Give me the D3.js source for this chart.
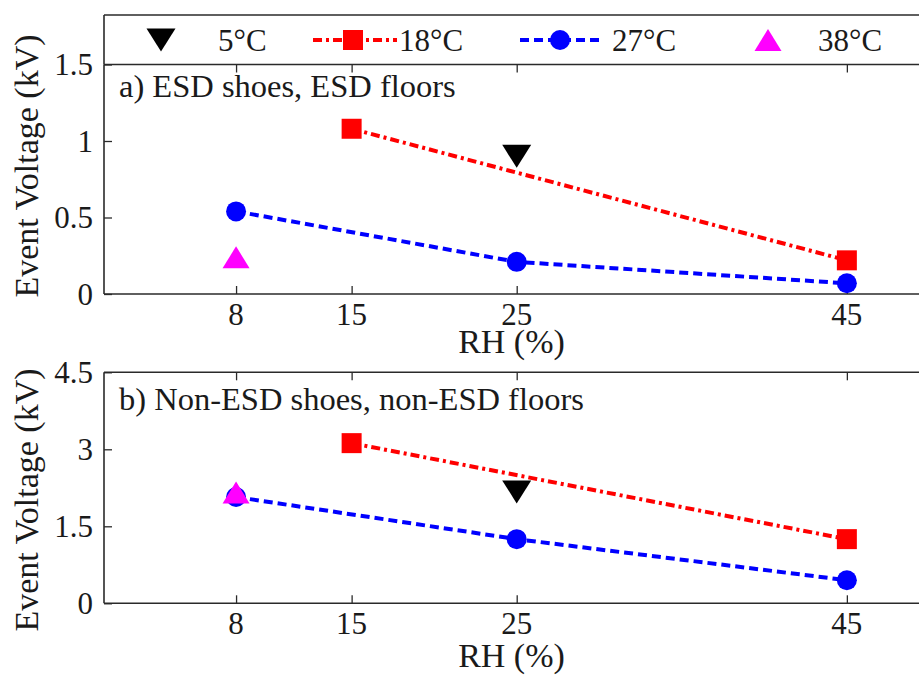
<!DOCTYPE html>
<html>
<head>
<meta charset="utf-8">
<script src="https://cdn.jsdelivr.net/npm/d3@7"></script>
</head>
<body style="margin:0">
<svg id="chart" width="919" height="681" style="font-family:'Liberation Serif'"></svg>
<script>
// Relative humidity values (%) shown on the x axis
const rhTicks = [8, 15, 25, 45];

// Legend entries / series names
const seriesNames = ["5\u00B0C", "18\u00B0C", "27\u00B0C", "38\u00B0C"];

// Panel a) ESD shoes, ESD floors — event voltage (kV)
const rhA_5 = [25];        const evA_5 = [0.90];
const rhA_18 = [15, 45];   const evA_18 = [1.08, 0.22];
const rhA_27 = [8, 25, 45]; const evA_27 = [0.54, 0.21, 0.07];
const rhA_38 = [8];        const evA_38 = [0.24];

// Panel b) Non-ESD shoes, non-ESD floors — event voltage (kV)
const rhB_5 = [25];        const evB_5 = [2.17];
const rhB_18 = [15, 45];   const evB_18 = [3.12, 1.25];
const rhB_27 = [8, 25, 45]; const evB_27 = [2.07, 1.25, 0.45];
const rhB_38 = [8];        const evB_38 = [2.16];

const yTicksA = [0, 0.5, 1, 1.5];
const yTickLabelsA = ["0", "0.5", "1", "1.5"];
const yTicksB = [0, 1.5, 3, 4.5];
const yTickLabelsB = ["0", "1.5", "3", "4.5"];

const panelTitles = ["a) ESD shoes, ESD floors", "b) Non-ESD shoes, non-ESD floors"];

const svg = d3.select("#chart");
const W = 919;
const axisColor = "#2a2a2a";
const tickLen = 8;

// all texts are collected here and drawn together at the end
const labels = [];
function addLabel(text, size, x, y, anchor, rot) {
  labels.push({ text: String(text), size, x, y, anchor: anchor || "start", rot: rot || 0 });
}

const x = d3.scaleLinear().domain([0, 50]).range([104, 929.4]);

const styles = [
  { color: "#000000", marker: "tridown", dash: null },
  { color: "#ff0000", marker: "square", dash: "9,4,3,4" },
  { color: "#0000ff", marker: "circle", dash: "9,5" },
  { color: "#ff00ff", marker: "triup", dash: null }
];

function markerPath(type) {
  switch (type) {
    case "square": return "M-10,-10H10V10H-10Z";
    case "circle": return "M-10,0A10,10 0 1,0 10,0A10,10 0 1,0 -10,0Z";
    case "tridown": return "M-14.5,-11.5L14.5,-11.5L0,11.5Z";
    case "triup": return "M-13.5,11L13.5,11L0,-11Z";
  }
}

function drawPanel(cfg) {
  const g = svg.append("g");
  const y = d3.scaleLinear().domain(cfg.yDomain).range([cfg.bottom, cfg.top]);
  const xl = x.range()[0];

  // frame: left and top edges
  g.append("line").attr("x1", xl).attr("x2", xl).attr("y1", cfg.top).attr("y2", cfg.bottom)
    .attr("stroke", axisColor).attr("stroke-width", 1.6);
  g.append("line").attr("x1", xl).attr("x2", W).attr("y1", cfg.top).attr("y2", cfg.top)
    .attr("stroke", axisColor).attr("stroke-width", 1.6);

  // bottom axis line and inward ticks
  const xAxisBottom = d3.axisBottom(x).tickValues(rhTicks).tickSizeInner(-tickLen).tickSizeOuter(0).tickFormat("");
  const gx = g.append("g").attr("transform", `translate(0,${cfg.bottom})`).call(xAxisBottom);
  gx.select(".domain").attr("d", `M${xl},0H${W}`).attr("stroke", axisColor).attr("stroke-width", 1.6);
  gx.selectAll(".tick line").attr("stroke", axisColor).attr("stroke-width", 1.3);
  gx.selectAll(".tick text").remove();
  rhTicks.forEach(v => addLabel(v, 31, x(v), cfg.bottom + 31, "middle"));

  // top ticks pointing down
  const xAxisTop = d3.axisTop(x).tickValues(rhTicks).tickSizeInner(-tickLen).tickSizeOuter(0).tickFormat("");
  const gxt = g.append("g").attr("transform", `translate(0,${cfg.top})`).call(xAxisTop);
  gxt.select(".domain").remove();
  gxt.selectAll(".tick text").remove();
  gxt.selectAll(".tick line").attr("stroke", axisColor).attr("stroke-width", 1.3);

  // left ticks pointing right
  const yAxis = d3.axisLeft(y).tickValues(cfg.yTicks).tickFormat("").tickSizeInner(-tickLen).tickSizeOuter(0);
  const gy = g.append("g").attr("transform", `translate(${xl},0)`).call(yAxis);
  gy.select(".domain").remove();
  gy.selectAll(".tick text").remove();
  gy.selectAll(".tick line").attr("stroke", axisColor).attr("stroke-width", 1.3);
  cfg.yTicks.forEach((v, i) => addLabel(cfg.yLabels[i], 31, xl - 11, y(v) + 10.5, "end"));

  // axis labels and panel title
  addLabel("RH (%)", 34, (xl + W) / 2, cfg.xLabelBaseline, "middle");
  addLabel("Event Voltage (kV)", 34, 38, cfg.yLabelCenter, "middle", -90);
  addLabel(cfg.title, 32.5, 119, cfg.titleBaseline, "start");

  // series
  cfg.series.forEach((s, i) => {
    const st = styles[i];
    const pts = s.rh.map((r, k) => [x(r), y(s.ev[k])]);
    if (st.dash && pts.length > 1) {
      g.append("path").attr("d", d3.line()(pts)).attr("fill", "none")
        .attr("stroke", st.color).attr("stroke-width", 4).attr("stroke-dasharray", st.dash);
    }
    g.selectAll(null).data(pts).enter().append("path")
      .attr("d", markerPath(st.marker))
      .attr("transform", d => `translate(${d[0]},${d[1]})`)
      .attr("fill", st.color).attr("stroke", "none");
  });
}

// legend box above panel a
const legendTop = 15, legendBottom = 64.5, legendMid = 40;
svg.append("line").attr("x1", 104).attr("x2", W).attr("y1", legendTop).attr("y2", legendTop)
  .attr("stroke", axisColor).attr("stroke-width", 1.6);
svg.append("line").attr("x1", 104).attr("x2", 104).attr("y1", legendTop).attr("y2", legendBottom)
  .attr("stroke", axisColor).attr("stroke-width", 1.6);

const legendLayout = [
  { line: null, mx: 161, tx: 218 },
  { line: [313, 397], mx: 353, tx: 399 },
  { line: [520, 600], mx: 560, tx: 612 },
  { line: null, mx: 768, tx: 818 }
];
legendLayout.forEach((L, i) => {
  const st = styles[i];
  if (L.line) {
    svg.append("line").attr("x1", L.line[0]).attr("x2", L.line[1]).attr("y1", legendMid).attr("y2", legendMid)
      .attr("stroke", st.color).attr("stroke-width", 4).attr("stroke-dasharray", st.dash);
  }
  svg.append("path").attr("d", markerPath(st.marker))
    .attr("transform", `translate(${L.mx},${legendMid})`).attr("fill", st.color);
  addLabel(seriesNames[i], 31, L.tx, 51, "start");
});

drawPanel({
  top: 64.5, bottom: 294, yDomain: [0, 1.5], yTicks: yTicksA, yLabels: yTickLabelsA,
  title: panelTitles[0], titleBaseline: 97, xLabelBaseline: 353, yLabelCenter: 166,
  series: [
    { rh: rhA_5, ev: evA_5 }, { rh: rhA_18, ev: evA_18 },
    { rh: rhA_27, ev: evA_27 }, { rh: rhA_38, ev: evA_38 }
  ]
});

drawPanel({
  top: 372.3, bottom: 603.3, yDomain: [0, 4.5], yTicks: yTicksB, yLabels: yTickLabelsB,
  title: panelTitles[1], titleBaseline: 410, xLabelBaseline: 667, yLabelCenter: 500,
  series: [
    { rh: rhB_5, ev: evB_5 }, { rh: rhB_18, ev: evB_18 },
    { rh: rhB_27, ev: evB_27 }, { rh: rhB_38, ev: evB_38 }
  ]
});

// draw every text in one join, in the serif face
svg.append("g").selectAll("text").data(labels).enter().append("text")
  .attr("x", d => d.rot ? 0 : d.x)
  .attr("y", d => d.rot ? 0 : d.y)
  .attr("transform", d => d.rot ? `translate(${d.x},${d.y}) rotate(${d.rot})` : null)
  .attr("font-size", d => d.size)
  .attr("text-anchor", d => d.anchor)
  .attr("fill", "#1a1a1a")
  .style("font-family", d => `"Liberation Serif"`)
  .text(d => d.text);
</script>
</body>
</html>
